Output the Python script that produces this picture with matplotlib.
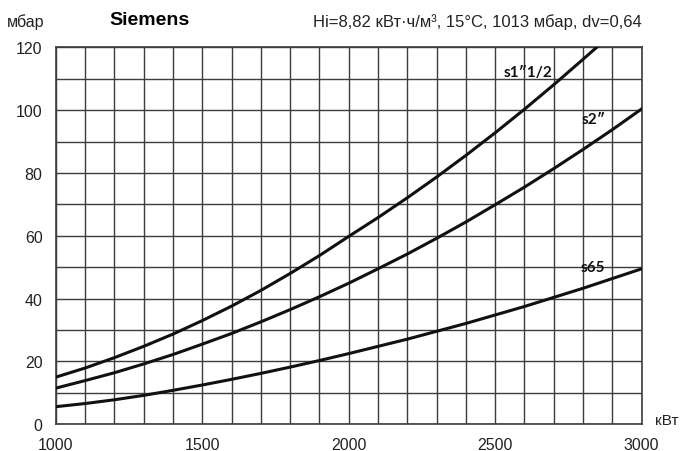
import matplotlib
matplotlib.use("Agg")
import matplotlib.pyplot as plt

plt.rcParams['font.family'] = ['Liberation Sans', 'DejaVu Sans']

# мощность, кВт
power = [1000, 1100, 1200, 1300, 1400, 1500, 1600, 1700, 1800, 1900, 2000,
         2100, 2200, 2300, 2400, 2500, 2600, 2700, 2800, 2900, 3000]

# потеря давления, мбар
s1_half = [15.0, 17.9, 21.2, 24.8, 28.7, 33.0, 37.6, 42.6, 48.0, 53.7, 59.8,
           65.8, 72.1, 78.7, 85.6, 92.8, 100.3, 108.1, 116.2]
s1_half_end = (2850, 120.3)
s2 = [11.5, 13.9, 16.4, 19.2, 22.2, 25.5, 28.9, 32.6, 36.5, 40.6, 44.9,
      49.5, 54.2, 59.2, 64.4, 69.9, 75.5, 81.4, 87.5, 93.8, 100.4]
s65 = [5.6, 6.6, 7.8, 9.2, 10.8, 12.5, 14.3, 16.2, 18.2, 20.3, 22.5,
       24.8, 27.1, 29.6, 32.1, 34.8, 37.5, 40.4, 43.3, 46.4, 49.5]

x_ticks = [1000, 1500, 2000, 2500, 3000]
y_ticks = [0, 20, 40, 60, 80, 100, 120]

fig = plt.figure(figsize=(6.82, 4.52), dpi=100)
ax = fig.add_axes([0.0817, 0.0591, 0.8592, 0.834])

grid_col = "#3c3c3c"
for q in range(1000, 3001, 100):
    ax.axvline(q, color=grid_col, lw=1.0, zorder=1)
for p in range(0, 121, 10):
    ax.axhline(p, color=grid_col, lw=1.0, zorder=1)

x1 = power[:len(s1_half)] + [s1_half_end[0]]
y1 = s1_half + [s1_half_end[1]]
ax.plot(x1, y1, color="#111111", lw=2.2, zorder=3)
ax.plot(power, s2, color="#111111", lw=2.2, zorder=3)
ax.plot(power, s65, color="#111111", lw=2.2, zorder=3)

lab_font = dict(fontsize=11, fontweight="bold", family=["Lato", "DejaVu Sans"],
                va="center", ha="left", color="#111111")
ax.text(2527, 112.0, "s1″1/2", **lab_font)
ax.text(2796, 97.2, "s2″", **lab_font)
ax.text(2793, 50.0, "s65", **lab_font)

ax.set_xlim(1000, 3000)
ax.set_ylim(0, 120)
ax.set_xticks(x_ticks)
ax.set_yticks(y_ticks)
ax.tick_params(length=0, labelsize=11.5, colors="#222222")
ax.tick_params(axis="x", pad=9)
ax.tick_params(axis="y", pad=9.5)
for s in ax.spines.values():
    s.set_color(grid_col)
    s.set_linewidth(1.2)

fig.text(0.010, 0.951, "мбар", fontsize=11.5, va="center", ha="left", color="#222222")
fig.text(0.160, 0.954, "Siemens", fontsize=14, fontweight="bold", va="center", ha="left")
fig.text(0.459, 0.952, "Hi=8,82 кВт·ч/м³, 15°C, 1013 мбар, dv=0,64",
         fontsize=12, va="center", ha="left", color="#222222")
fig.text(0.960, 0.068, "кВт", fontsize=11, va="center", ha="left", color="#222222")

fig.savefig("out.png", dpi=100)
